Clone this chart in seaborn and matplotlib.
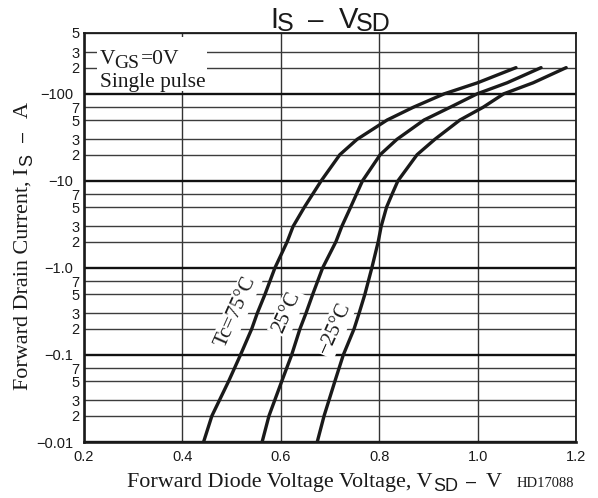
import numpy as np
import pandas as pd
import matplotlib
matplotlib.use("Agg")
import matplotlib.pyplot as plt
from matplotlib.patches import Rectangle
from matplotlib.ticker import FixedLocator, FixedFormatter
import seaborn as sns

# ---- data: forward diode characteristic, I_S vs V_SD ----
temps = ["Tc=75°C", "25°C", "−25°C"]

current_75 = [0.01, 0.02, 0.05, 0.1, 0.2, 0.3, 0.5, 1.0, 2, 3, 5, 10, 20, 30, 50, 70, 100, 134, 200]
vsd_75 = [0.443, 0.460, 0.494, 0.518, 0.541, 0.552, 0.568, 0.588, 0.613, 0.625, 0.648,
          0.682, 0.720, 0.755, 0.816, 0.869, 0.932, 1.000, 1.078]

current_25 = [0.01, 0.02, 0.05, 0.1, 0.2, 0.3, 0.5, 1.0, 2, 3, 5, 10, 20, 30, 50, 70, 100, 134, 200]
vsd_25 = [0.562, 0.576, 0.602, 0.622, 0.639, 0.651, 0.665, 0.685, 0.712, 0.724, 0.742,
          0.766, 0.802, 0.836, 0.891, 0.944, 0.999, 1.060, 1.129]

current_m25 = [0.01, 0.02, 0.05, 0.1, 0.2, 0.3, 0.5, 1.0, 2, 3, 5, 7, 10, 20, 30, 50, 70, 100, 134, 200]
vsd_m25 = [0.674, 0.688, 0.710, 0.727, 0.749, 0.759, 0.771, 0.785, 0.798, 0.804, 0.815, 0.826,
           0.838, 0.877, 0.913, 0.964, 1.011, 1.053, 1.113, 1.180]

# curve label anchor points (V, I)
label_v = [0.509, 0.613, 0.710]
label_i = [0.312, 0.304, 0.204]

x_ticks = [0.2, 0.4, 0.6, 0.8, 1.0, 1.2]
x_tick_labels = ["0.2", "0.4", "0.6", "0.8", "1.0", "1.2"]
y_major = [0.01, 0.1, 1.0, 10, 100]
y_major_labels = ["−0.01", "−0.1", "−1.0", "−10", "−100"]
y_minor = [0.02, 0.03, 0.05, 0.07, 0.2, 0.3, 0.5, 0.7, 2, 3, 5, 7, 20, 30, 50, 70, 200, 300, 500]
y_minor_labels = ["2", "3", "5", "7", "2", "3", "5", "7", "2", "3", "5", "7",
                  "2", "3", "5", "7", "2", "3", "5"]

df = pd.DataFrame({
    "V": vsd_75 + vsd_25 + vsd_m25,
    "I": current_75 + current_25 + current_m25,
    "Tc": [temps[0]] * len(vsd_75) + [temps[1]] * len(vsd_25) + [temps[2]] * len(vsd_m25),
})

SANS = "Liberation Sans"
SERIF = "Liberation Serif"
INK = "#1a1a1a"

sns.set_style("white")
plt.rcParams["font.family"] = [SANS, "DejaVu Sans"]

W_PX, H_PX = 598, 498
fig = plt.figure(figsize=(W_PX / 100, H_PX / 100), dpi=100)
ax = fig.add_axes([84 / W_PX, (H_PX - 442) / H_PX, (576 - 84) / W_PX, (442 - 33) / H_PX])

sns.lineplot(data=df, x="V", y="I", hue="Tc", palette=[INK] * 3, linewidth=2.4,
             sort=False, estimator=None, legend=False, ax=ax, zorder=4)

ax.set_yscale("log")
ax.set_xlim(0.2, 1.2)
ax.set_ylim(0.01, 500)

ax.xaxis.set_major_locator(FixedLocator(x_ticks))
ax.xaxis.set_major_formatter(FixedFormatter(x_tick_labels))
ax.yaxis.set_major_locator(FixedLocator(y_major))
ax.yaxis.set_major_formatter(FixedFormatter(y_major_labels))
ax.yaxis.set_minor_locator(FixedLocator(y_minor))
ax.yaxis.set_minor_formatter(FixedFormatter(y_minor_labels))

ax.set_axisbelow(True)
ax.grid(which="major", axis="y", color="#111111", linewidth=1.7)
ax.grid(which="minor", axis="y", color="#3c3c3c", linewidth=1.0)
ax.grid(which="major", axis="x", color="#333333", linewidth=1.0)

ax.tick_params(axis="both", which="both", length=0, labelsize=10.5, colors=INK)
ax.tick_params(axis="y", which="major", pad=8)
ax.tick_params(axis="y", which="minor", pad=3.5)
ax.tick_params(axis="x", which="major", pad=6)
ax.set_xlabel("")
ax.set_ylabel("")

for side in ["left", "bottom"]:
    ax.spines[side].set_linewidth(1.9)
for side in ["top", "right"]:
    ax.spines[side].set_linewidth(1.3)
for sp in ax.spines.values():
    sp.set_color(INK)
    sp.set_zorder(6)

# white patch behind the condition note
ax.add_patch(Rectangle((0.226, 108), 0.224, 342, facecolor="white", edgecolor="none", zorder=3))

# temperature labels along the curves
for name, lv, li in zip(temps, label_v, label_i):
    ax.text(lv, li, name, rotation=66, ha="center", va="center", fontsize=15,
            family=SERIF, color=INK, zorder=3,
            bbox=dict(facecolor="white", edgecolor="none", pad=1.5))

renderer = fig.canvas.get_renderer()


def text_width(text, size, family):
    probe = fig.text(0, 0, text, fontsize=size, family=family)
    w = probe.get_window_extent(renderer).width
    probe.remove()
    return w


def put(x0, y0, offset, drop, text, size, family, angle):
    th = np.deg2rad(angle)
    u = np.array([np.cos(th), np.sin(th)])
    v = np.array([-np.sin(th), np.cos(th)])
    p = np.array([x0, H_PX - y0]) + offset * u - drop * v
    fig.text(p[0] / W_PX, p[1] / H_PX, text, fontsize=size, family=family,
             rotation=angle, rotation_mode="anchor", ha="left", va="baseline",
             color=INK, zorder=7)


def place_fixed(x0, y0, runs, angle=0.0):
    """Runs at given offsets along the baseline; (x0, y0) in pixels from top-left."""
    for text, size, family, offset, drop in runs:
        put(x0, y0, offset, drop, text, size, family, angle)


def place_flow(x0, y0, runs, angle=0.0):
    """Runs one after another, each preceded by a gap in pixels."""
    offset = 0.0
    for text, size, family, gap, drop in runs:
        offset += gap
        put(x0, y0, offset, drop, text, size, family, angle)
        offset += text_width(text, size, family)


# axis-title size chosen so the x title's main run spans 306 px
x_main = "Forward Diode Voltage Voltage, V"
label_size = 16.0 * 306.0 / text_width(x_main, 16.0, SERIF)

# title
place_fixed(270, 28, [("I", 21, SANS, 0, 0), ("S", 18, SANS, 7, 3),
                      ("–", 20, SANS, 38, 0), ("V", 21, SANS, 69, 0), ("SD", 18, SANS, 86, 3)])

# condition note
place_fixed(100, 64, [("V", 15.5, SERIF, 0, 0), ("GS", 14, SERIF, 14, 4), ("=0V", 15.5, SERIF, 41, 0)])
place_fixed(100, 87, [("Single pulse", 15.5, SERIF, 0, 0)])

# x axis title
place_flow(127, 487, [(x_main, label_size, SERIF, 0, 0),
                      ("SD", 13, SANS, 0.5, 4), ("–", 13, SANS, 8, 0),
                      ("V", label_size, SERIF, 10, 0), ("HD17088", 10.5, SERIF, 14, 0)])

# y axis title
place_flow(28, 390, [("Forward Drain Current, I", label_size, SERIF, 0, 0),
                     ("S", 13, SANS, 2, 4), ("–", 13, SANS, 12, 0),
                     ("A", label_size, SERIF, 14, 0)], angle=90)

fig.savefig("out.png", dpi=100)
